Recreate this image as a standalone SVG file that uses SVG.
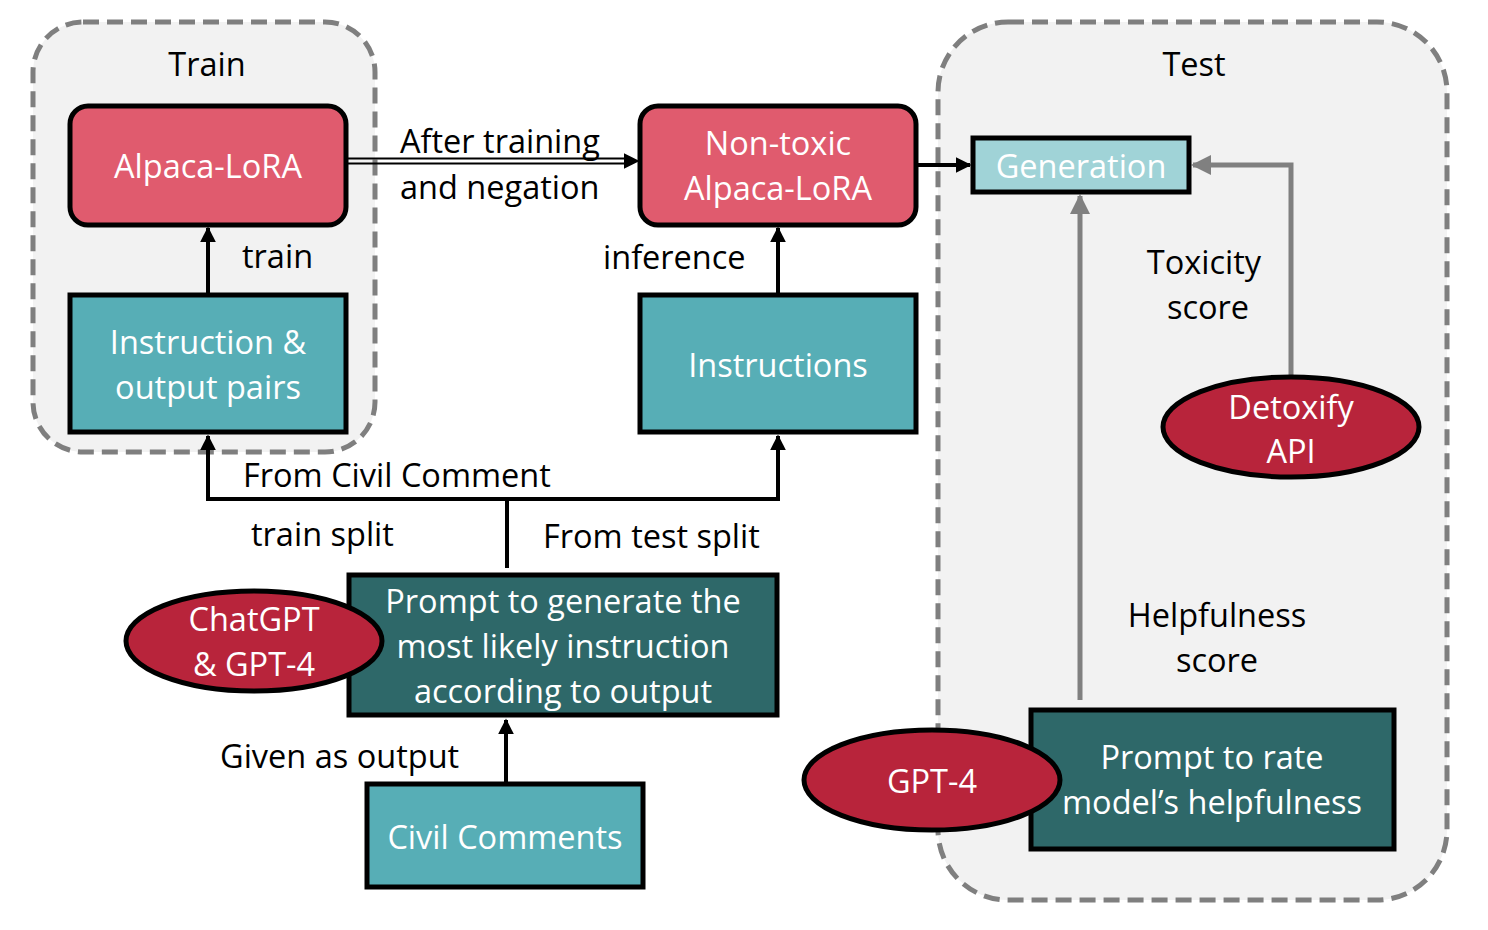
<svg xmlns="http://www.w3.org/2000/svg" width="1488" height="930" viewBox="0 0 1488 930">
<defs>
<style>
text{font-family:"Open Sans","Noto Sans",sans-serif;font-size:32.5px;text-anchor:middle;dominant-baseline:central}
.l{text-anchor:start}
.w{fill:#fff}
.k{fill:#000}
.grp{fill:#f2f2f2;stroke:#7f7f7f;stroke-width:5;stroke-dasharray:16 8}
.red{fill:#e05b6e;stroke:#000;stroke-width:5}
.teal{fill:#57aeb6;stroke:#000;stroke-width:5}
.lt{fill:#a0d3d7;stroke:#000;stroke-width:5}
.dk{fill:#2e6869;stroke:#000;stroke-width:5}
.el{fill:#b8243b;stroke:#000;stroke-width:5}
.c{fill:none;stroke:#000;stroke-width:4}
.g{fill:none;stroke:#808080;stroke-width:5}
</style>
<marker id="ab" viewBox="0 0 10 10" refX="9" refY="5" markerWidth="4" markerHeight="4" markerUnits="strokeWidth" orient="auto"><path d="M0,0L10,5L0,10z" fill="#000"/></marker>
<marker id="ag" viewBox="0 0 10 10" refX="9" refY="5" markerWidth="4" markerHeight="4" markerUnits="strokeWidth" orient="auto"><path d="M0,0L10,5L0,10z" fill="#808080"/></marker>
<marker id="ad" viewBox="0 0 10 10" refX="9" refY="5" markerWidth="16" markerHeight="16" markerUnits="userSpaceOnUse" orient="auto"><path d="M0,0L10,5L0,10z" fill="#000"/></marker>
</defs>
<g id="train-group"><rect class="grp" x="33" y="22" width="342" height="430" rx="50"/><text x="207" y="63" class="k">Train</text></g>
<g id="test-group"><rect class="grp" x="938" y="22" width="509" height="878" rx="70"/><text x="1194" y="63" class="k">Test</text></g>
<g id="connectors">
<path class="c" d="M208,294V228" marker-end="url(#ab)"/>
<path class="c" d="M778,294V228" marker-end="url(#ab)"/>
<path d="M346,158.5H630M346,163.5H630" fill="none" stroke="#000" stroke-width="2"/>
<path d="M346,161H638" fill="none" stroke="none" marker-end="url(#ad)"/>
<path class="c" d="M916,165H970" marker-end="url(#ab)"/>
<path class="g" d="M1291,377V165H1193" marker-end="url(#ag)"/>
<path class="g" d="M1080,700V196" marker-end="url(#ag)"/>
<path class="c" d="M507,568V499"/>
<path class="c" d="M208,499V436" marker-end="url(#ab)"/>
<path class="c" d="M206,499H780"/>
<path class="c" d="M778,499V436" marker-end="url(#ab)"/>
<path class="c" d="M506,784V720" marker-end="url(#ab)"/>
<text x="242" y="255" class="k l">train</text>
<text x="400" y="140" class="k l">After training</text>
<text x="400" y="186" class="k l">and negation</text>
<text x="603" y="256" class="k l">inference</text>
<text x="1204" y="261" class="k">Toxicity</text>
<text x="1208" y="306" class="k">score</text>
<text x="243" y="474" class="k l">From Civil Comment</text>
<text x="251" y="533" class="k l">train split</text>
<text x="543" y="535" class="k l">From test split</text>
<text x="220" y="755" class="k l">Given as output</text>
<text x="1217" y="614" class="k">Helpfulness</text>
<text x="1217" y="659" class="k">score</text>
</g>
<g id="alpaca"><rect class="red" x="70" y="106" width="276" height="119" rx="18"/><text x="208" y="165" class="w">Alpaca-LoRA</text></g>
<g id="pairs"><rect class="teal" x="70" y="295" width="276" height="137"/><text x="208" y="341" class="w">Instruction &amp;</text><text x="208" y="386" class="w">output pairs</text></g>
<g id="nontoxic"><rect class="red" x="640" y="106" width="276" height="119" rx="18"/><text x="778" y="142" class="w">Non-toxic</text><text x="778" y="187" class="w">Alpaca-LoRA</text></g>
<g id="instructions"><rect class="teal" x="640" y="295" width="276" height="137"/><text x="778" y="364" class="w">Instructions</text></g>
<g id="generation"><rect class="lt" x="973" y="138" width="216" height="54"/><text x="1081" y="165" class="w">Generation</text></g>
<g id="detoxify"><ellipse class="el" cx="1291" cy="427" rx="128" ry="50"/><text x="1291" y="406" class="w">Detoxify</text><text x="1291" y="450" class="w">API</text></g>
<g id="prompt-gen"><rect class="dk" x="349" y="575" width="428" height="140"/><text x="563" y="600" class="w">Prompt to generate the</text><text x="563" y="645" class="w">most likely instruction</text><text x="563" y="690" class="w">according to output</text></g>
<g id="chatgpt"><ellipse class="el" cx="254" cy="641" rx="128" ry="50"/><text x="254" y="618" class="w">ChatGPT</text><text x="254" y="663" class="w">&amp; GPT-4</text></g>
<g id="civil"><rect class="teal" x="367" y="784" width="276" height="103"/><text x="505" y="836" class="w">Civil Comments</text></g>
<g id="prompt-rate"><rect class="dk" x="1031" y="710" width="363" height="139"/><text x="1212" y="756" class="w">Prompt to rate</text><text x="1212" y="801" class="w">model’s helpfulness</text></g>
<g id="gpt4"><ellipse class="el" cx="932" cy="780" rx="128" ry="50"/><text x="932" y="780" class="w">GPT-4</text></g>
</svg>
